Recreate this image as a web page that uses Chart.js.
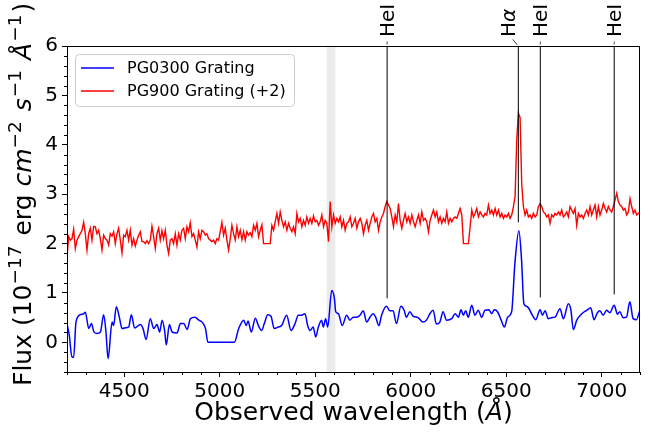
<!DOCTYPE html>
<html><head><meta charset="utf-8">
<script src="https://cdn.jsdelivr.net/npm/chart.js@4"></script>
<style>html,body{margin:0;padding:0;background:#fff}</style>
</head><body>
<canvas id="c" width="652" height="435"></canvas>
<script>
// ---- data ----
const seriesLabels = ['PG0300 Grating', 'PG900 Grating (+2)'];
const redStart = 4200, redStep = 8.721;   // uniform wavelength grid of the PG900 spectrum
const redFlux = [
1.73,2.14,2.07,2.10,2.29,1.90,2.07,2.14,2.20,2.27,
2.43,2.20,1.87,2.20,2.31,2.07,2.35,2.34,2.20,2.27,
2.10,1.87,2.17,2.10,2.07,1.97,2.20,2.15,2.24,2.00,
2.20,2.31,2.07,1.81,2.17,2.14,2.27,2.07,2.27,1.97,
2.10,1.95,2.07,2.17,2.24,2.04,2.04,2.00,2.06,2.00,
2.07,2.35,2.14,1.90,2.20,2.31,2.07,2.26,2.10,2.27,
1.97,1.80,2.07,2.10,2.00,2.20,1.97,2.20,2.07,2.27,
2.31,2.10,2.34,2.24,2.42,2.14,2.20,2.07,1.93,2.24,
2.10,2.27,2.24,2.17,2.20,2.10,2.07,2.04,2.07,2.00,
2.10,2.07,2.24,2.43,2.17,2.31,2.07,1.87,2.10,2.37,
2.20,2.07,2.34,2.14,2.27,2.08,2.24,2.07,2.24,2.17,
2.22,2.14,2.37,2.27,2.41,2.14,2.27,2.38,2.00,2.00,
2.00,2.00,2.00,2.37,2.27,2.44,2.61,2.41,2.64,2.47,
2.34,2.44,2.27,2.41,2.31,2.24,2.34,2.20,2.61,2.44,
2.51,2.34,2.47,2.37,2.54,2.41,2.51,2.41,2.56,2.44,
2.47,2.37,2.44,2.58,2.34,2.47,2.41,2.04,2.85,2.34,
2.58,2.41,2.51,2.44,2.54,2.34,2.47,2.27,2.41,2.44,
2.54,2.34,2.41,2.51,2.31,2.44,2.51,2.41,2.20,2.37,
2.47,2.27,2.41,2.54,2.61,2.44,2.51,2.27,2.44,2.54,
2.61,2.75,2.85,2.78,2.71,2.54,2.34,2.58,2.44,2.81,
2.47,2.31,2.47,2.61,2.44,2.54,2.41,2.58,2.44,2.34,
2.47,2.58,2.41,2.64,2.47,2.51,2.44,2.24,2.47,2.58,
2.68,2.54,2.64,2.44,2.54,2.41,2.51,2.44,2.64,2.41,
2.51,2.44,2.51,2.54,2.51,2.61,2.71,2.58,2.00,2.00,
2.00,2.00,2.34,2.68,2.54,2.61,2.71,2.54,2.64,2.58,
2.54,2.61,2.58,2.78,2.61,2.68,2.58,2.71,2.58,2.68,
2.54,2.61,2.51,2.58,2.54,2.61,2.51,2.58,2.75,2.95,
4.10,4.64,4.55,3.20,2.75,2.58,2.68,2.54,2.58,2.51,
2.61,2.54,2.58,2.75,2.81,2.75,2.64,2.61,2.54,2.58,
2.41,2.58,2.54,2.61,2.58,2.64,2.58,2.68,2.54,2.58,
2.64,2.54,2.75,2.68,2.61,2.71,2.37,2.61,2.54,2.58,
2.51,2.61,2.68,2.58,2.75,2.58,2.68,2.78,2.54,2.75,
2.58,2.68,2.81,2.71,2.64,2.75,2.68,2.64,2.75,2.88,
3.02,2.85,2.78,2.75,2.68,2.71,2.58,2.64,2.91,2.75,
2.61,2.68,2.58,2.61,2.64];
const blueWave = [
4200,4212,4226,4235,4247,4270,4288,4296,4314,4328,
4340,4357,4375,4392,4404,4415,4436,4444,4458,4474,
4488,4514,4523,4537,4554,4584,4598,4614,4636,4654,
4671,4685,4698,4711,4720,4736,4750,4776,4794,4811,
4829,4846,4869,4890,4907,4925,4938,5076,5099,5125,
5138,5148,5165,5186,5202,5219,5233,5251,5268,5285,
5306,5324,5350,5373,5394,5411,5428,5446,5460,5472,
5489,5502,5516,5533,5542,5554,5565,5586,5600,5607,
5621,5641,5664,5681,5699,5716,5734,5751,5769,5786,
5803,5816,5833,5847,5873,5890,5907,5925,5948,5965,
5977,5995,6012,6038,6064,6082,6100,6117,6134,6152,
6169,6187,6214,6232,6249,6263,6275,6287,6301,6319,
6336,6353,6371,6388,6409,6423,6437,6454,6472,6490,
6507,6528,6545,6566,6580,6592,6606,6619,6636,6654,
6677,6689,6703,6720,6737,6755,6781,6799,6825,6838,
6851,6869,6895,6921,6942,6959,6977,6990,7007,7025,
7042,7065,7082,7094,7112,7129,7147,7164,7181,7199];
const blueFlux = [
0.38,0.14,-0.30,-0.30,0.41,0.56,0.58,0.61,0.28,0.38,
0.22,0.18,0.21,0.56,0.21,-0.33,0.41,0.34,0.72,0.51,
0.28,0.30,0.31,0.56,0.29,0.36,0.28,0.06,0.48,0.28,
0.36,0.21,0.45,0.24,-0.05,0.36,0.21,0.19,0.38,0.38,
0.26,0.48,0.51,0.45,0.41,0.28,0.00,0.00,0.28,0.45,
0.34,0.43,0.21,0.49,0.34,0.24,0.38,0.56,0.53,0.28,
0.31,0.34,0.55,0.24,0.38,0.55,0.55,0.58,0.34,0.24,
0.31,0.11,0.31,0.45,0.31,0.48,0.31,1.05,0.89,0.62,
0.58,0.34,0.55,0.45,0.51,0.51,0.55,0.64,0.41,0.51,
0.58,0.51,0.34,0.55,0.73,0.64,0.64,0.38,0.73,0.65,
0.51,0.62,0.53,0.50,0.41,0.45,0.58,0.65,0.37,0.41,
0.62,0.45,0.48,0.58,0.51,0.66,0.55,0.64,0.51,0.75,
0.55,0.65,0.51,0.65,0.66,0.58,0.66,0.62,0.46,0.31,
0.51,0.62,1.60,2.26,1.66,0.78,0.73,0.68,0.55,0.46,
0.66,0.55,0.64,0.48,0.50,0.51,0.68,0.48,0.78,0.66,
0.26,0.45,0.58,0.65,0.70,0.46,0.60,0.64,0.55,0.65,
0.60,0.75,0.57,0.62,0.50,0.51,0.82,0.48,0.46,0.64];
const lineNames = ['HeI', 'Hα', 'HeI', 'HeI'];
const lineWaves = [5876, 6563, 6678, 7065];
const lineEnds  = [0.89, 2.43, 0.91, 0.97];
const skyBand = [5560, 5605];
const xTicks = [4500, 5000, 5500, 6000, 6500, 7000];
const yTicks = [0, 1, 2, 3, 4, 5, 6];

// ---- drawing ----
const FAM = "'DejaVu Sans', sans-serif";
const redWave = redFlux.map((_, i) => redStart + i * redStep);

function drawRich(ctx, segs, size, cx, cy, rot, align) {
  const parts = segs.map(s => {
    const fs = s.sup ? size * 0.74 : size;
    const font = (s.it ? 'italic ' : '') + fs + 'px ' + FAM;
    ctx.font = font;
    return Object.assign({}, s, {font, w: ctx.measureText(s.t).width + (s.gap || 0)});
  });
  const total = parts.reduce((a, p) => a + p.w, 0);
  ctx.save();
  ctx.translate(cx, cy); ctx.rotate(rot);
  let xx = align === 'center' ? -total / 2 : 0;
  ctx.textAlign = 'left'; ctx.textBaseline = 'alphabetic'; ctx.fillStyle = '#000';
  for (const p of parts) { ctx.font = p.font; ctx.fillText(p.t, xx, p.sup ? -size * 0.42 : 0); xx += p.w; }
  ctx.restore();
}

const decor = {
  id: 'decor',
  beforeDatasetsDraw(chart) {
    const {ctx, chartArea: a, scales: {x}} = chart;
    const x0 = x.getPixelForValue(skyBand[0]), x1 = x.getPixelForValue(skyBand[1]);
    ctx.save(); ctx.fillStyle = '#ebebeb';
    ctx.fillRect(x0, a.top, x1 - x0, a.bottom - a.top); ctx.restore();
  },
  afterDatasetsDraw(chart) {
    const {ctx, chartArea: a, scales: {x, y}} = chart;
    ctx.save();
    // emission line markers
    const nudge = {1: -10};
    lineWaves.forEach((w, i) => {
      const px = x.getPixelForValue(w);
      ctx.strokeStyle = '#000'; ctx.lineWidth = 1;
      ctx.beginPath(); ctx.moveTo(px, a.top); ctx.lineTo(px, y.getPixelForValue(lineEnds[i])); ctx.stroke();
      const dx = nudge[i] || 0;
      ctx.strokeStyle = '#444';
      ctx.beginPath();
      if (dx) { ctx.moveTo(px + dx * 0.56, a.top - 6.7); ctx.lineTo(px - 1, a.top - 1); }
      else { ctx.moveTo(px, a.top - 4.5); ctx.lineTo(px, a.top - 1.5); }
      ctx.stroke();
      const segs = lineNames[i] === 'Hα' ? [{t: 'H'}, {t: 'α', it: 1}] : [{t: lineNames[i]}];
      drawRich(ctx, segs, 20, px + dx + 7, a.top - 9, -Math.PI / 2, 'left');
    });
    // frame
    ctx.strokeStyle = '#000'; ctx.lineWidth = 1;
    ctx.strokeRect(Math.round(a.left) + 0.5, Math.round(a.top) + 0.5, Math.round(a.right - a.left) - 1, Math.round(a.bottom - a.top));
    // minor ticks
    ctx.beginPath();
    for (let v = 4200; v <= 7200; v += 100) {
      if (v % 500 === 0) continue;
      const px = Math.round(x.getPixelForValue(v)) + 0.5;
      ctx.moveTo(px, a.bottom); ctx.lineTo(px, a.bottom + 3);
    }
    for (let k = -3; k <= 30; k++) {
      if (k % 5 === 0) continue;
      const py = Math.round(y.getPixelForValue(k * 0.2)) + 0.5;
      ctx.moveTo(a.left, py); ctx.lineTo(a.left - 3, py);
    }
    ctx.stroke();
    // legend
    const lx = 75.5, ly = 54.5, lw = 219, lh = 52;
    ctx.beginPath(); ctx.roundRect(lx, ly, lw, lh, 4);
    ctx.fillStyle = 'rgba(255,255,255,0.8)'; ctx.fill();
    ctx.strokeStyle = '#cccccc'; ctx.stroke();
    chart.data.datasets.forEach((ds, i) => {
      const yy = 68 + i * 23;
      ctx.strokeStyle = ds.borderColor; ctx.lineWidth = 1.4;
      ctx.beginPath(); ctx.moveTo(81, yy); ctx.lineTo(114, yy); ctx.stroke();
      ctx.fillStyle = '#000'; ctx.font = '16px ' + FAM; ctx.textBaseline = 'middle'; ctx.textAlign = 'left';
      ctx.fillText(ds.label, 127, yy + 1);
    });
    ctx.restore();
    // axis titles
    drawRich(ctx, [{t: 'Flux (10'}, {t: '−17', sup: 1, gap: 2}, {t: ' erg '}, {t: 'cm', it: 1}, {t: '−2', sup: 1, gap: 2},
      {t: ' '}, {t: 's', it: 1, gap: 1}, {t: '−1', sup: 1, gap: 2}, {t: ' '}, {t: 'Å', it: 1, gap: 1}, {t: '−1', sup: 1, gap: 2}, {t: ')'}],
      25, 31, 386, -Math.PI / 2, 'left');
    drawRich(ctx, [{t: 'Observed wavelength ('}, {t: 'Å', it: 1}, {t: ')'}], 25, (a.left + a.right) / 2, 420, 0, 'center');
  }
};

new Chart(document.getElementById('c').getContext('2d'), {
  type: 'line',
  data: {datasets: [
    {label: seriesLabels[0], data: blueWave.map((w, i) => ({x: w, y: blueFlux[i]})),
     borderColor: '#0000ff', borderWidth: 1.5, pointRadius: 0, cubicInterpolationMode: 'monotone', fill: false},
    {label: seriesLabels[1], data: redWave.map((w, i) => ({x: w, y: redFlux[i]})),
     borderColor: '#ff0000', borderWidth: 1.4, pointRadius: 0, tension: 0, fill: false}
  ]},
  options: {
    responsive: false, animation: false, devicePixelRatio: 1,
    layout: {padding: {left: 0, top: 46, right: 12, bottom: 0}},
    plugins: {legend: {display: false}, tooltip: {enabled: false}},
    scales: {
      x: {type: 'linear', min: 4200, max: 7200,
        afterBuildTicks: s => { s.ticks = xTicks.map(v => ({value: v})); },
        afterFit: s => { s.height = 63; },
        grid: {drawOnChartArea: false, tickLength: 5, color: '#000', tickColor: '#000'},
        border: {display: false},
        ticks: {font: {family: FAM, size: 20}, color: '#000', padding: 3, maxRotation: 0, autoSkip: false, callback: v => String(v)}},
      y: {type: 'linear', min: -0.6, max: 6,
        afterBuildTicks: s => { s.ticks = yTicks.map(v => ({value: v})); },
        afterFit: s => { s.width = 67; },
        grid: {drawOnChartArea: false, tickLength: 5, color: '#000', tickColor: '#000'},
        border: {display: false},
        ticks: {font: {family: FAM, size: 20}, color: '#000', padding: 4, autoSkip: false, callback: v => String(v)}}
    }
  },
  plugins: [decor]
});
</script>
</body></html>
